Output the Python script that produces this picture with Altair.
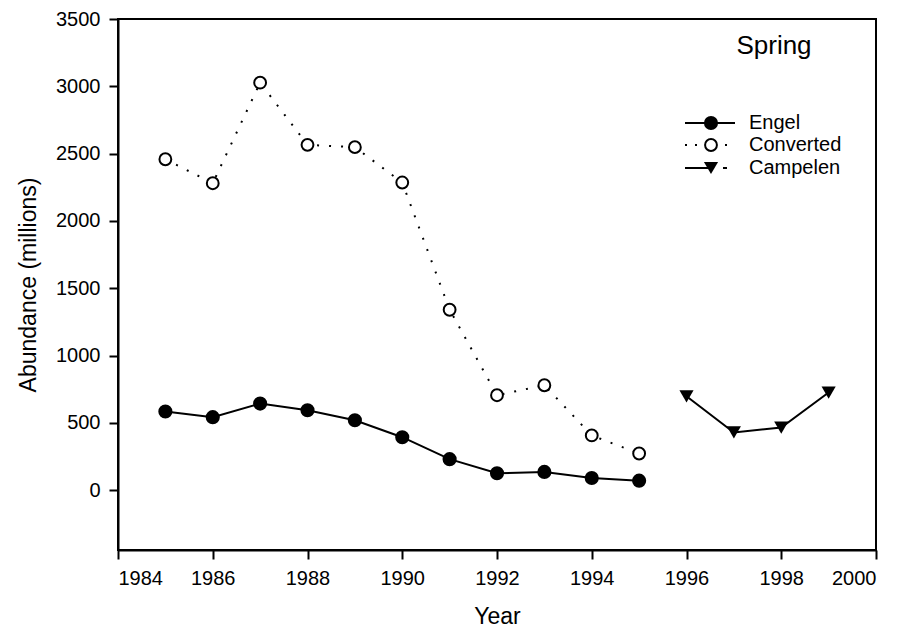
import altair as alt
import pandas as pd

years_old = [1985, 1986, 1987, 1988, 1989, 1990, 1991, 1992, 1993, 1994, 1995]
engel = [584, 542, 643, 593, 519, 393, 230, 125, 135, 90, 70]
converted = [2458, 2280, 3027, 2565, 2548, 2285, 1340, 705, 779, 406, 272]
years_new = [1996, 1997, 1998, 1999]
campelen = [697, 428, 465, 725]

x_ticks = list(range(1984, 2001, 2))
y_ticks = list(range(0, 3501, 500))

series_names = ["Engel", "Converted", "Campelen"]

FONT = "Liberation Sans"

df_e = pd.DataFrame({"Year": years_old, "v": engel})
df_c = pd.DataFrame({"Year": years_old, "v": converted})
df_p = pd.DataFrame({"Year": years_new, "v": campelen})

xs = alt.Scale(domain=[1984, 2000], nice=False, zero=False)
ys = alt.Scale(domain=[-445, 3500], nice=False, zero=False)

xenc = alt.X("Year:Q", scale=xs,
             axis=alt.Axis(values=x_ticks, format="d", title="Year"))
yenc = alt.Y("v:Q", scale=ys,
             axis=alt.Axis(values=y_ticks, format="d", title="Abundance (millions)"))

e_line = alt.Chart(df_e).mark_line(color="black", strokeWidth=2).encode(x=xenc, y=yenc)
e_pts = alt.Chart(df_e).mark_point(shape="circle", filled=True, color="black", size=200, opacity=1).encode(x=xenc, y=yenc)

c_line = alt.Chart(df_c).mark_line(color="black", strokeWidth=2, strokeDash=[2, 10]).encode(x=xenc, y=yenc)
c_pts = alt.Chart(df_c).mark_point(shape="circle", filled=False, fill="white", fillOpacity=1,
                                   stroke="black", strokeWidth=2, size=140, opacity=1).encode(x=xenc, y=yenc)

p_line = alt.Chart(df_p).mark_line(color="black", strokeWidth=2).encode(x=xenc, y=yenc)
p_pts = alt.Chart(df_p).mark_point(shape="triangle-down", filled=True, color="black", size=200, opacity=1).encode(x=xenc, y=yenc)

# legend (pixel layout inside plot area)
row_y = [104, 126, 149]
leg_lines = pd.DataFrame({
    "x1": [567, 567, 567, 605],
    "x2": [617, 617, 594, 609],
    "y": [row_y[0], row_y[1], row_y[2], row_y[2]],
    "dash": ["solid", "dot", "solid", "solid"],
})
leg_solid = alt.Chart(leg_lines[leg_lines.dash == "solid"]).mark_rule(color="black", strokeWidth=2).encode(
    x=alt.X("x1:Q", scale=None), x2="x2:Q", y=alt.Y("y:Q", scale=None))
leg_dot = alt.Chart(leg_lines[leg_lines.dash == "dot"]).mark_rule(color="black", strokeWidth=2, strokeDash=[2, 8]).encode(
    x=alt.X("x1:Q", scale=None), x2="x2:Q", y=alt.Y("y:Q", scale=None))

leg_sym = pd.DataFrame({"x": [593, 593, 593], "y": row_y, "name": series_names})
leg_s1 = alt.Chart(leg_sym.iloc[[0]]).mark_point(shape="circle", filled=True, color="black", size=200, opacity=1).encode(
    x=alt.X("x:Q", scale=None), y=alt.Y("y:Q", scale=None))
leg_s2 = alt.Chart(leg_sym.iloc[[1]]).mark_point(shape="circle", filled=False, fill="white", fillOpacity=1,
                                                 stroke="black", strokeWidth=2, size=140, opacity=1).encode(
    x=alt.X("x:Q", scale=None), y=alt.Y("y:Q", scale=None))
leg_s3 = alt.Chart(leg_sym.iloc[[2]]).mark_point(shape="triangle-down", filled=True, color="black", size=200, opacity=1).encode(
    x=alt.X("x:Q", scale=None), y=alt.Y("y:Q", scale=None))
leg_txt = alt.Chart(pd.DataFrame({"x": [631] * 3, "y": row_y, "name": series_names})).mark_text(
    align="left", baseline="middle", font=FONT, fontSize=20, color="black").encode(
    x=alt.X("x:Q", scale=None), y=alt.Y("y:Q", scale=None), text="name:N")

spring = alt.Chart(pd.DataFrame({"x": [656], "y": [27], "t": ["Spring"]})).mark_text(
    align="center", baseline="middle", font=FONT, fontSize=26, color="black").encode(
    x=alt.X("x:Q", scale=None), y=alt.Y("y:Q", scale=None), text="t:N")

chart = alt.layer(
    e_line, c_line, p_line, e_pts, c_pts, p_pts,
    leg_solid, leg_dot, leg_s1, leg_s2, leg_s3, leg_txt, spring
).properties(
    width=758, height=531,
    autosize=alt.AutoSizeParams(type="none"),
    padding={"left": 110, "top": 11, "right": 14, "bottom": 79},
).configure_view(
    stroke="black", strokeWidth=2
).configure_axis(
    grid=False, domainColor="black", domainWidth=2, tickColor="black", tickWidth=2, tickSize=9,
    labelFont=FONT, labelFontSize=20, labelColor="black", labelPadding=9,
    titleFont=FONT, titleFontSize=23, titleFontWeight="normal", titleColor="black",
).configure_axisY(
    titlePadding=15
).configure_axisX(
    titlePadding=17
)

chart.save("out.html", embed_options={"renderer": "svg", "actions": False})
